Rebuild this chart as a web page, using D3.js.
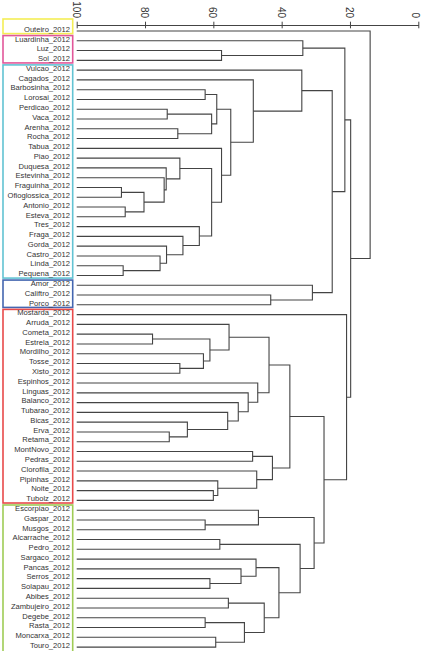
<!DOCTYPE html>
<html><head><meta charset="utf-8">
<script src="https://cdn.jsdelivr.net/npm/d3@7"></script>
<style>body{margin:0;background:#fff}svg{display:block}</style>
</head><body><svg id="c" width="421" height="651"></svg>
<script>
// Leaf order (top to bottom)
const leaves = ["Outeiro","Luardinha","Luz","Sol","Vulcao","Cagados","Barbosinha","Lorosai",
"Perdicao","Vaca","Arenha","Rocha","Tabua","Piao","Duquesa","Estevinha","Fraguinha",
"Ofioglossica","Antonio","Esteva","Tres","Fraga","Gorda","Castro","Linda","Pequena",
"Amor","Califtro","Porco","Mostarda","Arruda","Cometa","Estrela","Mordilho","Tosse","Xisto",
"Espinhos","Linguas","Balanco","Tubarao","Bicas","Erva","Retama","MontNovo","Pedras",
"Clorofila","Pipinhas","Noite","Tubolz","Escorpiao","Gaspar","Musgos","Alcarrache","Pedro",
"Sargaco","Pancas","Serros","Solapau","Abibes","Zambujeiro","Degebe","Rasta","Moncarxa","Touro"];
const suffix = "_2012";
// Merges: [childA, childB, similarity]; "mN" refers to the N-th merge
const merges = [
["Luz","Sol",57.6],["Luardinha","m1",33.8],["Barbosinha","Lorosai",62.4],["Perdicao","Vaca",73.5],
["Arenha","Rocha",70.4],["m4","m5",60.5],["m3","m6",59.0],["Fraguinha","Ofioglossica",86.9],
["Antonio","Esteva",85.8],["m8","m9",80.3],["Estevinha","m10",74.4],["Duquesa","m11",73.8],
["Piao","m12",69.8],["Linda","Pequena",86.4],["Castro","m14",75.6],["Gorda","m15",73.7],
["Fraga","m16",68.9],["Tres","m17",64.1],["m13","m18",60.5],["Tabua","m19",57.6],
["m7","m20",54.9],["Cagados","m21",48.3],["Vulcao","m22",34.1],["Califtro","Porco",43.2],
["Amor","m24",31.0],["m23","m25",25.2],["m2","m26",21.5],["Cometa","Estrela",77.8],
["Tosse","Xisto",69.8],["Mordilho","m29",62.9],["m28","m30",61.0],["Arruda","m31",55.4],
["Erva","Retama",72.9],["Bicas","m33",67.6],["Tubarao","m34",55.8],["Balanco","m35",52.7],
["Linguas","m36",49.8],["Espinhos","m37",47.0],["m32","m38",43.7],["MontNovo","Pedras",48.5],
["Noite","Tubolz",60.0],["Pipinhas","m41",58.7],["Clorofila","m42",47.3],["m40","m43",42.7],
["m39","m44",37.6],["Gaspar","Musgos",62.4],["Escorpiao","m46",46.8],["Alcarrache","Pedro",58.1],
["Serros","Solapau",61.0],["Pancas","m49",51.9],["Sargaco","m50",47.5],["Abibes","Zambujeiro",55.6],
["Degebe","Rasta",62.4],["Moncarxa","Touro",59.3],["m53","m54",50.9],["m52","m55",45.1],
["m51","m56",40.8],["m48","m57",34.6],["m47","m58",30.5],["m45","m59",27.6],
["Mostarda","m60",21.0],["m27","m61",19.8],["Outeiro","m62",14.1]];
const tickValues = [100,80,60,40,20,0];
const groupFirst = ["Outeiro","Luardinha","Vulcao","Amor","Mostarda","Escorpiao"];
const groupLast  = ["Outeiro","Sol","Pequena","Porco","Tubolz","Touro"];
const groupColors = ["#f4ee55","#e2579a","#62c3d3","#4466b0","#e84a4a","#9fcc55"];

const svg = d3.select("#c");
const x = d3.scaleLinear().domain([100,0]).range([76.7,418.3]);
const y = d3.scalePoint().domain(leaves).range([31,647.1]);

const nodes = {};
leaves.forEach(l => nodes[l] = {h:100, y:y(l)});
merges.forEach((m,i) => {
  const a = nodes[m[0]], b = nodes[m[1]];
  nodes["m"+(i+1)] = {h:m[2], y:(a.y+b.y)/2, a:a, b:b};
});

// group boxes
const gb = svg.append("g");
groupFirst.forEach((f,i) => {
  const top = i===0 ? 19 : y(f) - 5.2;
  const bot = y(groupLast[i]) + (i===groupFirst.length-1 ? 12 : 2.6);
  gb.append("rect").attr("x",3).attr("y",top).attr("width",69.7).attr("height",bot-top)
    .attr("fill","none").attr("stroke",groupColors[i]).attr("stroke-width",1.6);
});

// dendrogram
const g = svg.append("g").attr("fill","none").attr("stroke","#444").attr("stroke-width",1.1);
merges.forEach((m,i) => {
  const n = nodes["m"+(i+1)];
  const p = d3.path();
  p.moveTo(x(n.a.h), n.a.y);
  p.lineTo(x(n.h), n.a.y);
  p.lineTo(x(n.h), n.b.y);
  p.lineTo(x(n.b.h), n.b.y);
  g.append("path").attr("d", p.toString());
});

// labels
svg.append("g").selectAll("text").data(leaves).join("text")
  .attr("x",70).attr("y",d=>y(d)).attr("dy","0.1em")
  .attr("text-anchor","end").attr("font-family","Liberation Sans, Arial, sans-serif")
  .attr("font-size",7.6).attr("fill","#333").text(d=>d+suffix);

// axis
const ax = svg.append("g").attr("transform","translate(0,25)")
  .call(d3.axisTop(x).tickValues(tickValues).tickSizeOuter(0).tickFormat(d3.format("d")));
ax.select(".domain").attr("stroke","#444");
ax.selectAll(".tick line").attr("y1",3.3).attr("y2",-3.3).attr("stroke","#444");
ax.selectAll(".tick text").attr("transform","rotate(90)").attr("x",-7).attr("y",0)
  .attr("dy",d => d===0 ? "0.68em" : "0.45em").attr("text-anchor","end")
  .attr("font-family","Liberation Sans, Arial, sans-serif").attr("font-size",10).attr("fill","#333");
</script></body></html>
